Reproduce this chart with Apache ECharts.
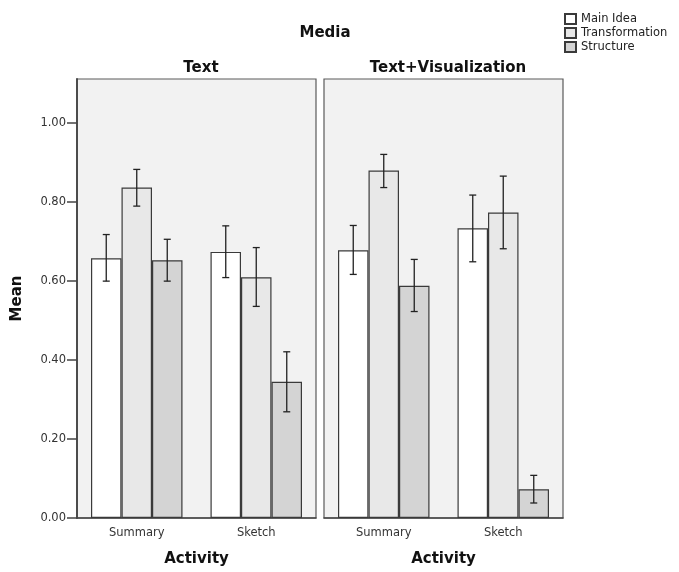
<!DOCTYPE html>
<html>
<head>
<meta charset="utf-8">
<script src="https://cdn.jsdelivr.net/npm/echarts@6/dist/echarts.min.js"></script>
<style>
html,body{margin:0;padding:0;background:#fff;}
#chart{width:679px;height:572px;}
</style>
</head>
<body>
<div id="chart"></div>
<script>
// ---- data ----
const categories = ['Summary', 'Sketch'];
const seriesNames = ['Main Idea', 'Transformation', 'Structure'];
const panelTitles = ['Text', 'Text+Visualization'];
const yTickValues = [0, 0.2, 0.4, 0.6, 0.8, 1.0];

// Panel "Text"
const textMainIdea = [0.658, 0.674];
const textMainIdeaLo = [0.600, 0.609];
const textMainIdeaHi = [0.718, 0.740];
const textTransformation = [0.837, 0.610];
const textTransformationLo = [0.790, 0.536];
const textTransformationHi = [0.883, 0.685];
const textStructure = [0.653, 0.345];
const textStructureLo = [0.600, 0.269];
const textStructureHi = [0.706, 0.421];

// Panel "Text+Visualization"
const visMainIdea = [0.678, 0.734];
const visMainIdeaLo = [0.617, 0.649];
const visMainIdeaHi = [0.741, 0.818];
const visTransformation = [0.880, 0.774];
const visTransformationLo = [0.837, 0.682];
const visTransformationHi = [0.921, 0.866];
const visStructure = [0.588, 0.073];
const visStructureLo = [0.523, 0.038];
const visStructureHi = [0.655, 0.108];

// ---- styles ----
const FONT = 'DejaVu Sans';
const BAR_W = 30.5;
const barColors = ['#ffffff', '#e8e8e8', '#d4d4d4'];
const panels = [
  {means: [textMainIdea, textTransformation, textStructure],
   lo: [textMainIdeaLo, textTransformationLo, textStructureLo],
   hi: [textMainIdeaHi, textTransformationHi, textStructureHi]},
  {means: [visMainIdea, visTransformation, visStructure],
   lo: [visMainIdeaLo, visTransformationLo, visStructureLo],
   hi: [visMainIdeaHi, visTransformationHi, visStructureHi]}
];

const grids = [
  {left: 77, width: 239, top: 79, bottom: 53, show: true, backgroundColor: '#f2f2f2', borderColor: '#5a5a5a', borderWidth: 1.2},
  {left: 324, width: 239, top: 79, bottom: 53, show: true, backgroundColor: '#f2f2f2', borderColor: '#5a5a5a', borderWidth: 1.2}
];

const xAxes = grids.map((g, i) => ({
  type: 'category', gridIndex: i, data: categories,
  name: 'Activity', nameLocation: 'middle', nameGap: 34,
  nameTextStyle: {fontFamily: FONT, fontWeight: 'bold', fontSize: 15, color: '#111'},
  axisLine: {lineStyle: {color: '#444', width: 1.5}},
  axisTick: {alignWithLabel: true, length: 5, lineStyle: {color: '#444', width: 1.5}},
  axisLabel: {fontFamily: FONT, fontSize: 11.5, color: '#333', margin: 9},
  splitLine: {show: false}
}));

const yAxes = grids.map((g, i) => ({
  type: 'value', gridIndex: i, min: 0, max: 1.112,
  show: i === 0,
  name: i === 0 ? 'Mean' : '', nameLocation: 'middle', nameGap: 52,
  nameTextStyle: {fontFamily: FONT, fontWeight: 'bold', fontSize: 15, color: '#111'},
  axisLine: {show: true, lineStyle: {color: '#444', width: 1.8}},
  axisTick: {show: true, length: 10, customValues: yTickValues, lineStyle: {color: '#444', width: 1.5}},
  axisLabel: {fontFamily: FONT, fontSize: 11.5, color: '#333', margin: 11,
    customValues: yTickValues, formatter: v => v.toFixed(2)},
  splitLine: {show: false}
}));

const series = [];
panels.forEach((p, pi) => {
  seriesNames.forEach((name, si) => {
    series.push({
      type: 'bar', name: name, xAxisIndex: pi, yAxisIndex: pi,
      data: p.means[si], barWidth: BAR_W, barGap: '0%',
      itemStyle: {color: barColors[si], borderColor: '#3a3a3a', borderWidth: 1.2},
      emphasis: {disabled: true}, z: 2
    });
  });
  seriesNames.forEach((name, si) => {
    const offset = (si - 1) * BAR_W;
    series.push({
      type: 'custom', name: 'err_' + pi + '_' + si, xAxisIndex: pi, yAxisIndex: pi,
      data: categories.map((c, ci) => [ci, p.lo[si][ci], p.hi[si][ci]]),
      z: 5, silent: true,
      renderItem: function (params, api) {
        const pLo = api.coord([api.value(0), api.value(1)]);
        const pHi = api.coord([api.value(0), api.value(2)]);
        const x = pLo[0] + offset;
        const cap = 3.5;
        const st = {stroke: '#222', lineWidth: 1.3};
        return {type: 'group', children: [
          {type: 'line', shape: {x1: x, y1: pLo[1], x2: x, y2: pHi[1]}, style: st},
          {type: 'line', shape: {x1: x - cap, y1: pLo[1], x2: x + cap, y2: pLo[1]}, style: st},
          {type: 'line', shape: {x1: x - cap, y1: pHi[1], x2: x + cap, y2: pHi[1]}, style: st}
        ]};
      }
    });
  });
});

const option = {
  animation: false,
  backgroundColor: '#ffffff',
  title: [
    {text: 'Media', left: 320, top: 21, textAlign: 'center',
     textStyle: {fontFamily: FONT, fontWeight: 'bold', fontSize: 15, color: '#111'}},
    {text: panelTitles[0], left: 196, top: 56, textAlign: 'center',
     textStyle: {fontFamily: FONT, fontWeight: 'bold', fontSize: 15, color: '#111'}},
    {text: panelTitles[1], left: 443, top: 56, textAlign: 'center',
     textStyle: {fontFamily: FONT, fontWeight: 'bold', fontSize: 15, color: '#111'}}
  ],
  legend: {
    data: seriesNames, orient: 'vertical', left: 564, top: 13,
    itemWidth: 11, itemHeight: 10, itemGap: 2, icon: 'rect',
    textStyle: {fontFamily: FONT, fontSize: 11.5, color: '#222', lineHeight: 11},
    padding: 0, selectedMode: false
  },
  grid: grids,
  xAxis: xAxes,
  yAxis: yAxes,
  series: series
};

const chart = echarts.init(document.getElementById('chart'), null, {renderer: 'canvas'});
chart.setOption(option);
</script>
</body>
</html>
